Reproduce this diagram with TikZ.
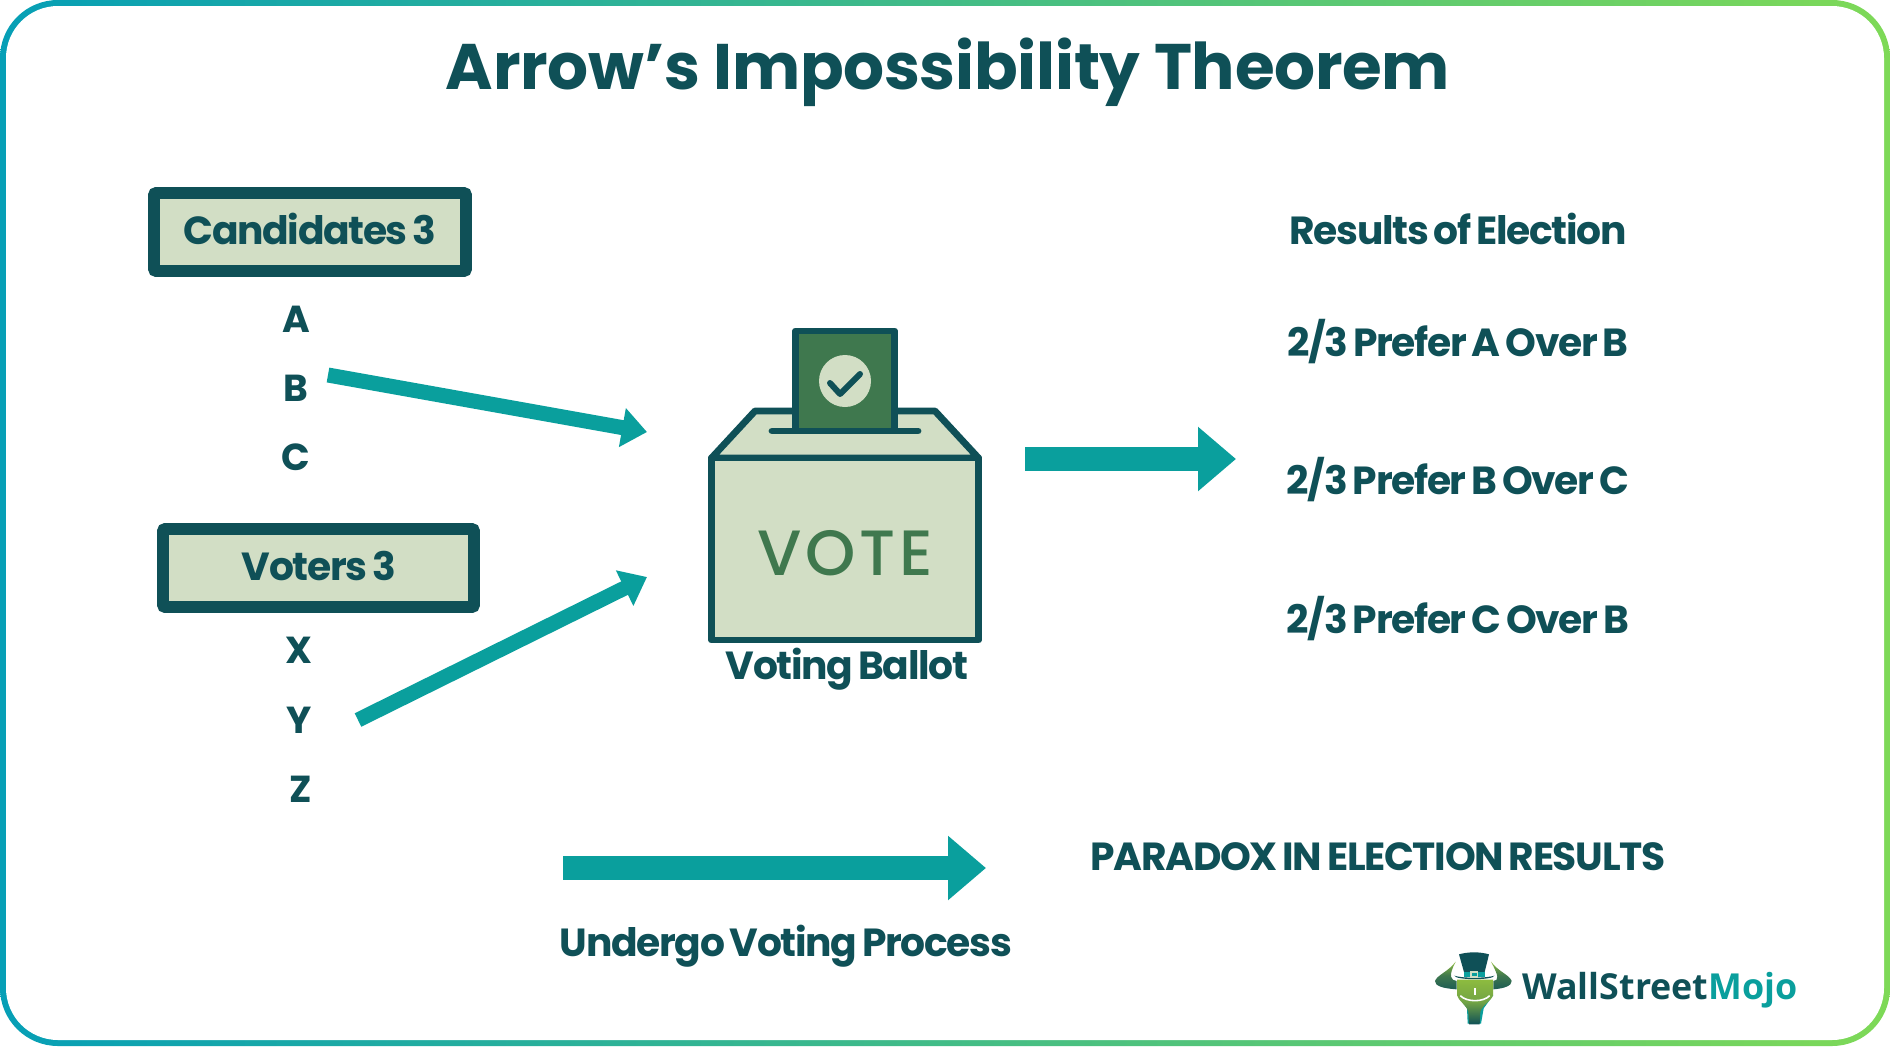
\documentclass[tikz,border=0pt]{standalone}
\usepackage{fontspec}
\usetikzlibrary{arrows.meta}
\newfontfamily\pop{Poppins}[BoldFont=Poppins Bold]
\newfontfamily\popT{Poppins Bold}[LetterSpace=-0.4]
\newfontfamily\popS{Poppins Bold}[LetterSpace=-3.4,WordSpace=0.7]
\newfontfamily\popM{Poppins Medium}[LetterSpace=6]
\newfontfamily\wsm{Open Sans}[BoldFont=Open Sans Bold]
\definecolor{dk}{HTML}{0F5057}
\definecolor{tl}{HTML}{0A9F9D}
\definecolor{pale}{HTML}{D2DEC5}
\definecolor{gr}{HTML}{3F784E}
\definecolor{bl}{HTML}{069FB6}
\definecolor{gn}{HTML}{7ED957}
\definecolor{lime}{HTML}{8DBB3F}
\tikzset{
  lab/.style={text=dk,font=\popS\fontsize{19.6}{21}\selectfont,inner sep=0pt,anchor=center},
  letter/.style={text=dk,font=\pop\bfseries\fontsize{18.8}{20}\selectfont,inner sep=0pt},
  hdrbox/.style={draw=dk,fill=pale,line width=5.8pt,rounded corners=1pt},
  ink/.style={draw=dk,line width=3.4pt,line join=round,line cap=round},
  thinarrow/.style={draw=tl,line width=7.5pt,-{Triangle[length=12.5pt,width=19pt]}},
  fatarrow/.style={draw=tl,line width=12pt,-{Triangle[length=19pt,width=31pt]}},
}
\begin{document}
\begin{tikzpicture}[x=0.5pt,y=-0.5pt]
\useasboundingbox (0,0) rectangle (1890,1050);
% frame
\fill[white] (0,0) rectangle (1890,1050);
\shade[left color=bl,right color=gn,rounded corners=29pt] (0,0) rectangle (1890,1046);
\fill[white,rounded corners=26pt] (6,6) rectangle (1884,1040);
% title
\node[text=dk,font=\popT\fontsize{32.2}{36}\selectfont,inner sep=0pt] (title) at (948,72) {Arrow’s Impossibility Theorem};
% headers
\path[hdrbox] (154,193) rectangle (466,271);
\node[lab] (cand) at (310,229) {Candidates 3};
\path[hdrbox] (163,529) rectangle (474,607);
\node[lab] (vot) at (319,566) {Voters 3};
\node[letter] (A) at (296,319) {A};
\node[letter] (B) at (296,388) {B};
\node[letter] (C) at (296,457) {C};
\node[letter] (X) at (299,650) {X};
\node[letter] (Y) at (299,720) {Y};
\node[letter] (Z) at (301,789) {Z};
% arrows
\coordinate (a1s) at (328,375);
\coordinate (a1e) at (647,432);
\coordinate (a2s) at (358,720);
\coordinate (a2e) at (647,577);
\coordinate (a3s) at (1025,459);
\coordinate (a3e) at (1236,459);
\coordinate (a4s) at (563,868);
\coordinate (a4e) at (986,868);
\draw[thinarrow] (a1s) -- (a1e);
\draw[thinarrow] (a2s) -- (a2e);
\draw[fatarrow] (a3s) -- (a3e);
\draw[fatarrow] (a4s) -- (a4e);
% ballot box
\path[ink,fill=pale] (711.5,458) -- (755,411) -- (935,411) -- (978.5,458) -- cycle;
\path[ink,fill=pale] (711.5,458) rectangle (978.5,640);
\path[draw=dk,fill=gr,line width=3.4pt,line join=round] (795.5,431) -- (795.5,331) -- (894.5,331) -- (894.5,431) -- cycle;
\draw[ink] (772,431) -- (918,431);
\fill[pale] (845,381) circle (26);
\draw[draw=dk,line width=3pt,line cap=round,line join=round] (830,383) -- (840,394) -- (860,374);
\node[text=gr,font=\popM\fontsize{32}{34}\selectfont,inner sep=0pt] (vote) at (845,553) {VOTE};
\node[lab] (ballot) at (847,669) {Voting Ballot};
% right
\node[lab] (res) at (1458,229) {Results of Election};
\node[lab] (r1) at (1458,342) {2/3 Prefer A Over B};
\node[lab] (r2) at (1458,480) {2/3 Prefer B Over C};
\node[lab] (r3) at (1458,619) {2/3 Prefer C Over B};
\node[lab] (par) at (1378,857) {PARADOX IN ELECTION RESULTS};
\node[lab] (und) at (786,946) {Undergo Voting Process};
% logo
\begin{scope}[shift={(1425,945)},x=0.16667pt,y=-0.16667pt]
  % horns
  \shade[top color=lime,bottom color=dk!70!gr,middle color=gr] (92,50) .. controls (70,80) and (36,90) .. (30,108) .. controls (30,122) and (50,130) .. (95,133) -- (95,108) .. controls (78,106) and (68,95) .. (92,50) -- cycle;
  \shade[top color=lime,bottom color=dk!70!gr,middle color=gr] (198,50) .. controls (220,80) and (254,90) .. (260,108) .. controls (260,122) and (240,130) .. (205,133) -- (205,108) .. controls (222,106) and (222,95) .. (198,50) -- cycle;
  % head
  \fill[tl] (97,150) -- (126,190) -- (128,236) -- (168,236) -- (176,190) -- (205,150) -- cycle;
  \shade[top color=lime,bottom color=dk,middle color=lime!65!gr] (96,104) -- (204,104) -- (204,150) .. controls (202,165) and (172,180) .. (166,200) -- (164,238) -- (132,238) -- (130,200) .. controls (124,180) and (98,165) .. (96,150) -- cycle;
  \draw[white,line width=0.8pt] (106,152) .. controls (125,172) and (175,172) .. (194,152);
  \draw[white,line width=0.6pt] (150,130) -- (150,150);
  % hat
  \fill[dk] (102,28) .. controls (130,20) and (165,20) .. (192,28) -- (178,85) -- (118,85) -- cycle;
  \fill[dk] (88,92) .. controls (110,100) and (185,100) .. (208,92) .. controls (205,106) and (92,106) .. (88,92) -- cycle;
  \fill[tl] (116,80) -- (180,80) -- (180,95) -- (116,95) -- cycle;
  \draw[draw=pale,line width=0.8pt] (138,81) rectangle (158,96);
\end{scope}
\node[anchor=west,inner sep=0pt,font=\wsm\bfseries\fontsize{17.9}{20}\selectfont] (wsm) at (1522,990) {\textcolor{dk}{WallStreet}\textcolor{tl}{Mojo}};
\end{tikzpicture}
\end{document}
